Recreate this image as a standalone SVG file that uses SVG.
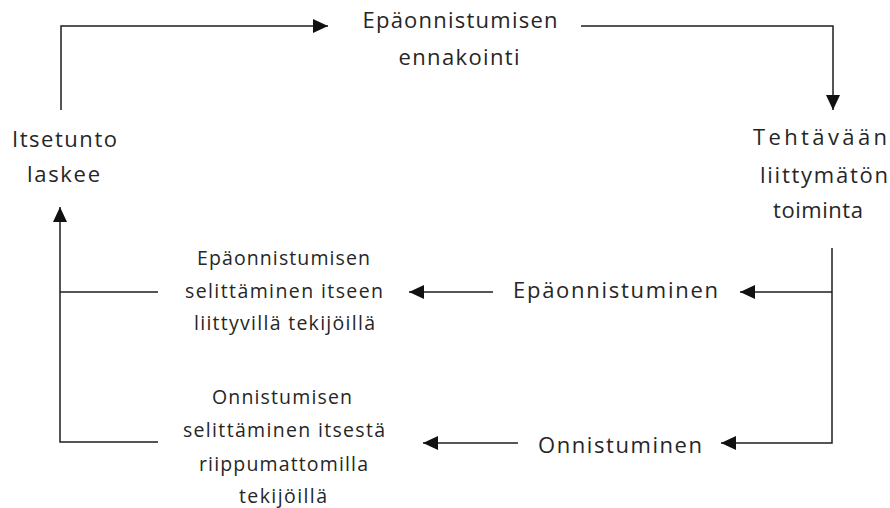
<svg xmlns="http://www.w3.org/2000/svg" width="890" height="508" viewBox="0 0 890 508">
<style>
.t{font-family:"Open Sans","Liberation Sans",sans-serif;fill:#262626;text-anchor:middle}
.l{font-size:22px}
.s{font-size:19.5px}
.c{fill:none;stroke:#1e1e1e;stroke-width:1.5}
</style>
<defs>
<marker id="ah" viewBox="0 0 15 14" refX="15" refY="7" markerWidth="15" markerHeight="14" markerUnits="userSpaceOnUse" orient="auto">
<path d="M0,0 L15,7 L0,14 z" fill="#111"/>
</marker>
</defs>
<rect width="890" height="508" fill="#fff"/>
<g id="connectors">
<path class="c" d="M61,110 V26 H328" marker-end="url(#ah)"/>
<path class="c" d="M581,26 H833 V110" marker-end="url(#ah)"/>
<path class="c" d="M832,248 V443 H721" marker-end="url(#ah)"/>
<path class="c" d="M832,292 H740" marker-end="url(#ah)"/>
<path class="c" d="M493,292 H409" marker-end="url(#ah)"/>
<path class="c" d="M518,443 H423" marker-end="url(#ah)"/>
<path class="c" d="M158,292 H60"/>
<path class="c" d="M158,442 H60 V207" marker-end="url(#ah)"/>
</g>
<g id="ennakointi">
<text class="t l" x="460" y="28" textLength="195" lengthAdjust="spacing">Epäonnistumisen</text>
<text class="t l" x="459" y="65" textLength="121" lengthAdjust="spacing">ennakointi</text>
</g>
<g id="toiminta">
<text class="t l" x="820" y="145" textLength="134" lengthAdjust="spacing">Tehtävään</text>
<text class="t l" x="824" y="183" textLength="128" lengthAdjust="spacing">liittymätön</text>
<text class="t l" x="818" y="218" textLength="90" lengthAdjust="spacing">toiminta</text>
</g>
<g id="itsetunto">
<text class="t l" x="64.5" y="147" textLength="105" lengthAdjust="spacing">Itsetunto</text>
<text class="t l" x="63.5" y="182" textLength="73" lengthAdjust="spacing">laskee</text>
</g>
<g id="epaonnistuminen">
<text class="t l" x="615.5" y="298" textLength="205" lengthAdjust="spacing">Epäonnistuminen</text>
</g>
<g id="onnistuminen">
<text class="t l" x="620" y="453" textLength="164" lengthAdjust="spacing">Onnistuminen</text>
</g>
<g id="selitys-epaonnistuminen">
<text class="t s" x="283.5" y="265" textLength="173" lengthAdjust="spacing">Epäonnistumisen</text>
<text class="t s" x="284" y="298" textLength="198" lengthAdjust="spacing">selittäminen itseen</text>
<text class="t s" x="284.5" y="330" textLength="181" lengthAdjust="spacing">liittyvillä tekijöillä</text>
</g>
<g id="selitys-onnistuminen">
<text class="t s" x="282" y="404" textLength="140" lengthAdjust="spacing">Onnistumisen</text>
<text class="t s" x="284" y="437" textLength="202" lengthAdjust="spacing">selittäminen itsestä</text>
<text class="t s" x="283.5" y="471" textLength="169" lengthAdjust="spacing">riippumattomilla</text>
<text class="t s" x="283" y="503" textLength="88" lengthAdjust="spacing">tekijöillä</text>
</g>
</svg>
